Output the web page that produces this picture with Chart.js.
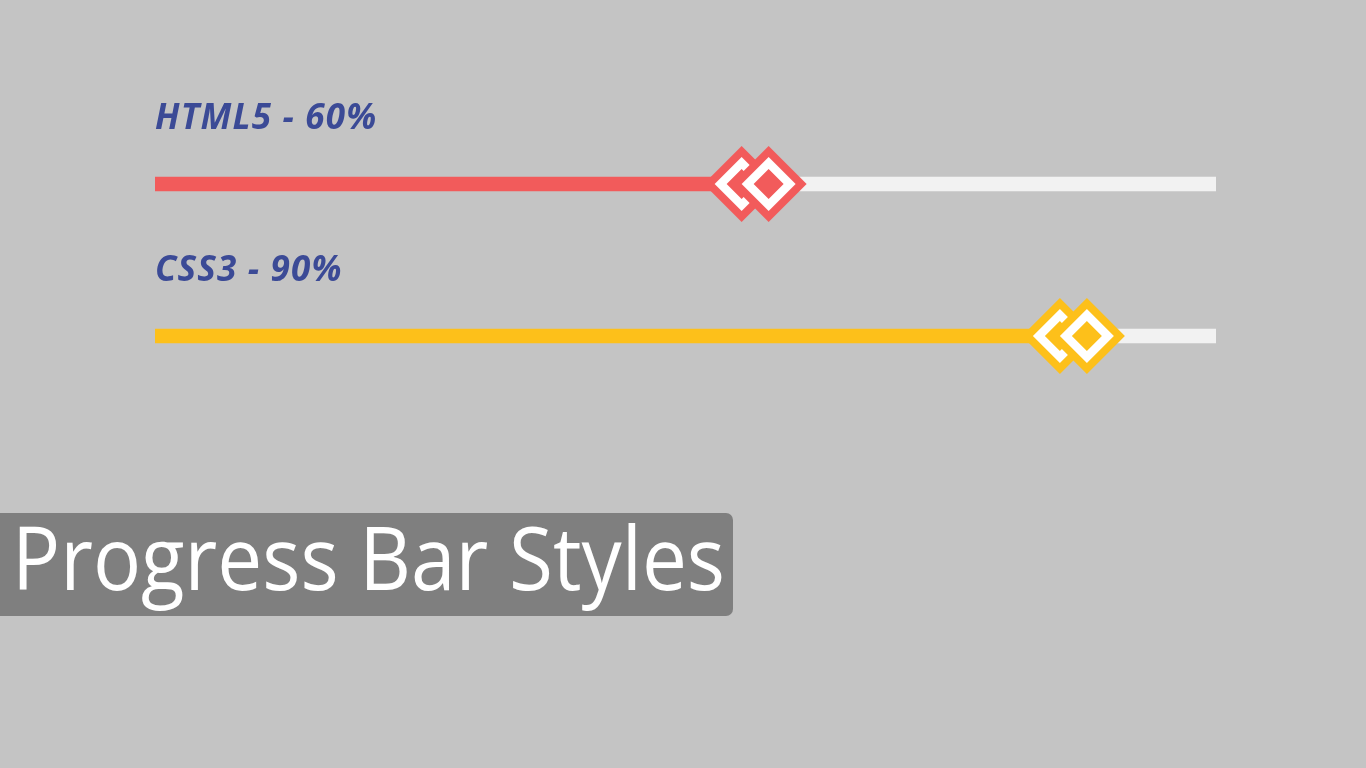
<!DOCTYPE html>
<html>
<head>
<meta charset="utf-8">
<title>Progress Bar Styles</title>
<script src="https://cdn.jsdelivr.net/npm/chart.js@4.4.1/dist/chart.umd.min.js"></script>
<style>
  html, body { margin: 0; padding: 0; background: #c4c4c4; }
  body { width: 1366px; height: 768px; position: relative; overflow: hidden; }
  #chart { position: absolute; left: 0; top: 0; }
  #caption {
    position: absolute; left: 0; top: 513px; width: 733px; height: 103px;
    background: #7f7f7f; border-radius: 0 7px 7px 0;
  }
  #caption span {
    position: absolute; left: 12px; top: 0px;
    font-family: "Open Sans", sans-serif; font-size: 88px; line-height: 87px; font-weight: 500;
    color: #fff; white-space: nowrap; transform-origin: 0 0;
  }
</style>
</head>
<body>
<canvas id="chart" width="1366" height="768"></canvas>
<div id="caption"><span id="captionText">Progress Bar Styles</span></div>
<script>
// skills and their progress (percent)
const categories = ['HTML5', 'CSS3'];
const progress = [60, 90];
const barColors = ['#f25b5b', '#fdc01a'];
const trackColor = '#f2f2f2';
const labelColor = '#3b4a96';

const rest = progress.map(v => 100 - v);

// two diamonds at the end of every bar, label above it
const markers = {
    id: 'markers',
    afterDatasetsDraw(chart) {
        let ctx = chart.ctx;
        let x = chart.scales.x;
        let y = chart.scales.y;
        const diamond = (cx, cy, r, color) => {
            ctx.beginPath();
            ctx.moveTo(cx - r, cy);
            ctx.lineTo(cx, cy - r);
            ctx.lineTo(cx + r, cy);
            ctx.lineTo(cx, cy + r);
            ctx.closePath();
            ctx.fillStyle = color;
            ctx.fill();
        };
        ctx.save();
        progress.forEach((v, i) => {
            let cy = y.getPixelForValue(i);
            let c2 = x.getPixelForValue(v) - 23;
            let c1 = c2 - 27;
            [c1, c2].forEach(cx => {
                diamond(cx, cy, 38, barColors[i]);
                diamond(cx, cy, 27, '#ffffff');
                diamond(cx, cy, 15, barColors[i]);
            });
            ctx.font = 'italic bold 35px "Open Sans"';
            ctx.letterSpacing = '1.2px';
            ctx.fillStyle = labelColor;
            ctx.textAlign = 'left';
            ctx.textBaseline = 'alphabetic';
            ctx.fillText(categories[i] + ' - ' + v + '%', chart.chartArea.left, cy - 55);
        });
        ctx.restore();
    }
};

function fitCaption() {
    let span = document.getElementById('captionText');
    let w = span.getBoundingClientRect().width;
    span.style.transform = 'scaleX(' + (713 / w) + ')';
}

function draw() {
    fitCaption();
    let ctx = document.getElementById('chart').getContext('2d');
    new Chart(ctx, {
        type: 'bar',
        data: {
            labels: categories,
            datasets: [{
                    label: 'progress',
                    data: progress,
                    backgroundColor: barColors,
                    borderWidth: 0,
                    barThickness: 14
                },
                {
                    label: 'rest',
                    data: rest,
                    backgroundColor: trackColor,
                    borderWidth: 0,
                    barThickness: 14
                }
            ]
        },
        options: {
            indexAxis: 'y',
            responsive: false,
            animation: false,
            devicePixelRatio: 1,
            layout: {
                padding: { left: 155, right: 150, top: 108, bottom: 356 }
            },
            plugins: {
                legend: { display: false },
                tooltip: { enabled: false }
            },
            scales: {
                x: { stacked: true, min: 0, max: 100, display: false },
                y: { stacked: true, display: false }
            }
        },
        plugins: [markers]
    });
}

Promise.all([
    document.fonts.load('italic bold 35px "Open Sans"'),
    document.fonts.load('500 88px "Open Sans"')
]).then(draw, draw);
</script>
</body>
</html>
